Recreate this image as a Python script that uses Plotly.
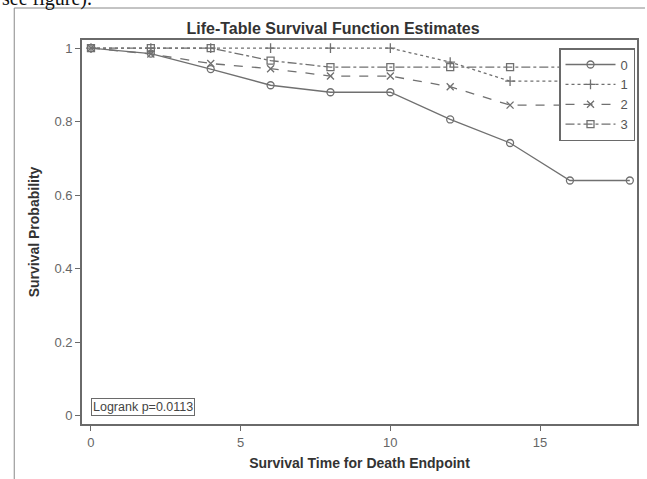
import plotly.graph_objects as go

time = [0, 2, 4, 6, 8, 10, 12, 14, 16, 18]
strata = ["0", "1", "2", "3"]
surv0 = [1.0, 0.985, 0.943, 0.899, 0.880, 0.880, 0.806, 0.742, 0.640, 0.640]
surv1 = [1.0, 1.0, 1.0, 1.0, 1.0, 1.0, 0.962, 0.910, 0.910, 0.910]
surv2 = [1.0, 0.984, 0.958, 0.944, 0.924, 0.924, 0.895, 0.845, 0.845, 0.845]
surv3 = [1.0, 1.0, 1.0, 0.966, 0.948, 0.948, 0.948, 0.948, 0.948, 0.948]
series = [surv0, surv1, surv2, surv3]
dashes = ["solid", "dot", "dash", "dashdot"]
symbols = ["circle-open", "cross-thin-open", "x-thin-open", "square-open"]

x_ticks = [0, 5, 10, 15]
y_ticks = [0, 0.2, 0.4, 0.6, 0.8, 1]
y_tick_text = ["0", "0.2", "0.4", "0.6", "0.8", "1"]

FONT = "Liberation Sans"
LINE = "#707070"
FRAME = "#6a6a6a"

fig = go.Figure()
for name, vals, dsh, sym in zip(strata, series, dashes, symbols):
    fig.add_trace(go.Scatter(
        x=time, y=vals, name=name, mode="lines+markers",
        line=dict(color=LINE, width=1.3, dash=dsh),
        marker=dict(symbol=sym, size=7, color=LINE, line=dict(color=LINE, width=1.3)),
    ))

fig.update_layout(
    width=647, height=479,
    margin=dict(l=82, r=8, t=40, b=55),
    paper_bgcolor="white", plot_bgcolor="white",
    font=dict(family=FONT, color="#444444"),
    title=dict(text="<b>Life-Table Survival Function Estimates</b>",
               x=(333 / 647), xanchor="center", y=1 - 28 / 479, yanchor="middle",
               font=dict(size=16, color="#333333", family=FONT)),
    showlegend=True,
    legend=dict(x=0.9964, xanchor="right", y=0.979, yanchor="top",
                bordercolor=FRAME, borderwidth=1.5, bgcolor="white",
                font=dict(size=13, color="#555555", family=FONT),
                tracegroupgap=0, itemwidth=50),
    xaxis=dict(range=[-0.3, 18.24], tickvals=x_ticks, ticks="outside", ticklen=5,
               tickcolor=FRAME, showline=True, linecolor=FRAME, linewidth=1.8,
               mirror=True, showgrid=False, zeroline=False,
               tickfont=dict(size=13, color="#666666"),
               title=dict(text="<b>Survival Time for Death Endpoint</b>", standoff=10,
                          font=dict(size=14, color="#333333"))),
    yaxis=dict(range=[-0.022, 1.022], tickvals=y_ticks, ticktext=y_tick_text,
               ticks="outside", ticklen=5, tickcolor=FRAME, showline=True,
               linecolor=FRAME, linewidth=1.8, mirror=True, showgrid=False,
               zeroline=False, tickfont=dict(size=13, color="#666666"),
               title=dict(text="<b>Survival Probability</b>", standoff=12,
                          font=dict(size=14, color="#333333"))),
)

# Logrank annotation box
fig.add_annotation(text="Logrank p=0.0113", xref="paper", yref="paper",
                   x=(91 - 82) / 557, xanchor="left", y=(424 - 416) / 384, yanchor="bottom",
                   showarrow=False, bordercolor=FRAME, borderwidth=1, borderpad=1,
                   bgcolor="white", font=dict(size=12.5, color="#444444", family=FONT))

# Surrounding page frame lines from the source document
fig.add_shape(type="line", xref="paper", yref="paper",
              x0=(14 - 82) / 557, x1=(647 - 82) / 557,
              y0=(424 - 8) / 384, y1=(424 - 8) / 384,
              line=dict(color="#888888", width=1))
fig.add_shape(type="line", xref="paper", yref="paper",
              x0=(14 - 82) / 557, x1=(14 - 82) / 557,
              y0=(424 - 8) / 384, y1=(424 - 479) / 384,
              line=dict(color="#888888", width=1))
fig.add_annotation(text="see figure).", xref="paper", yref="paper",
                   x=(0 - 82) / 557, xanchor="left", y=(424 - 12) / 384, yanchor="bottom",
                   showarrow=False, font=dict(size=20, color="#111111", family="Liberation Serif"))

fig.write_html("out.html")
